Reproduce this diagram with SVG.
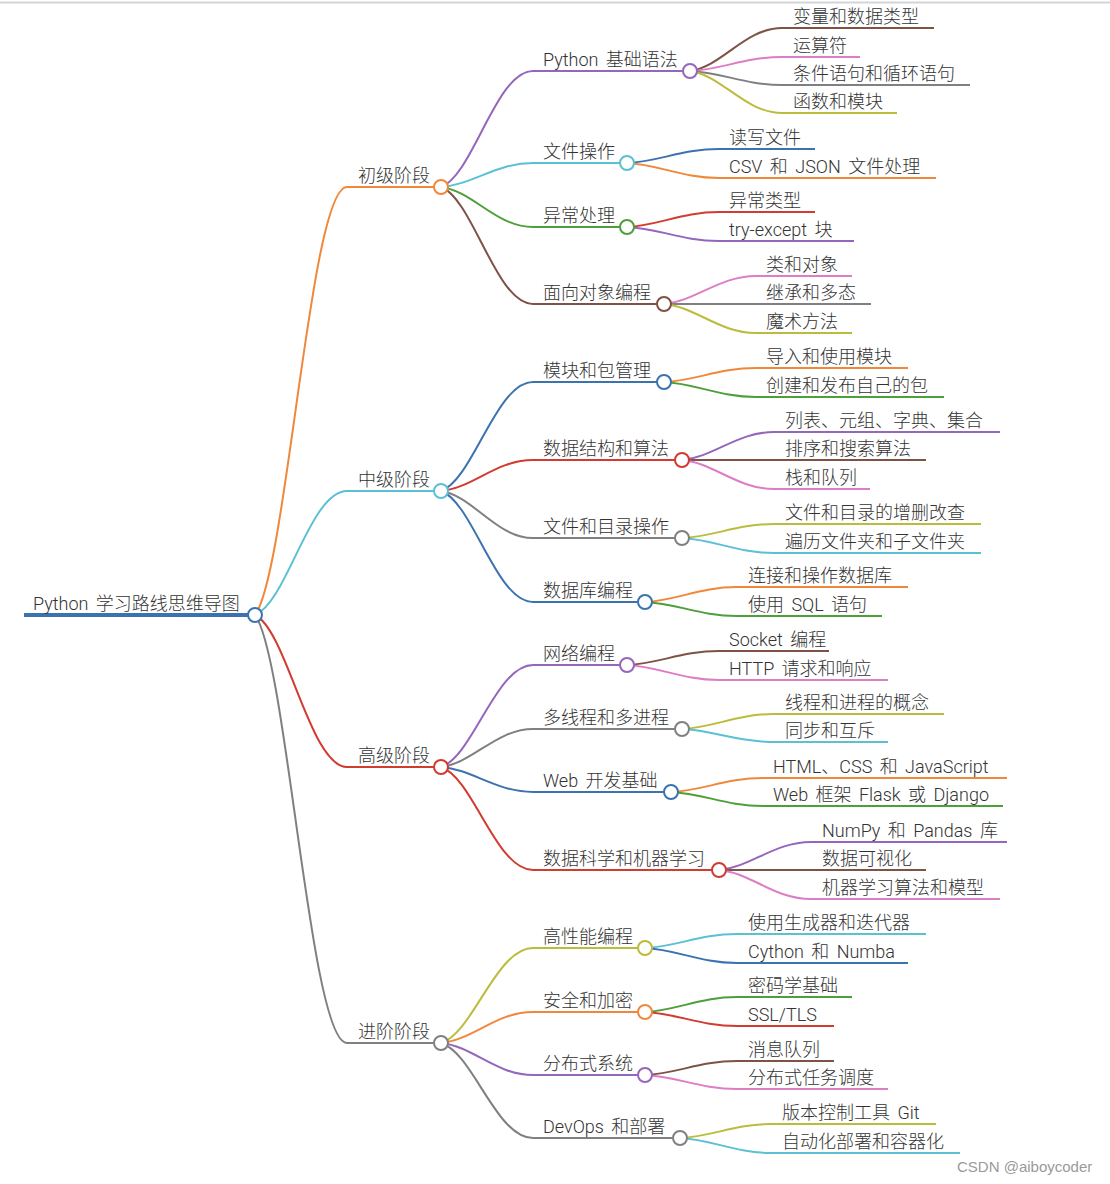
<svg xmlns="http://www.w3.org/2000/svg" width="1110" height="1184" viewBox="0 0 1110 1184">
<style>
text{font-family:Roboto,"Noto Sans CJK SC",sans-serif;font-size:18px;fill:#333;font-weight:300;word-spacing:3px}
.wm{font-family:"Liberation Sans",sans-serif;font-size:15px;fill:#9a9a9a;font-weight:400;word-spacing:0}
path{fill:none;stroke-width:2}
circle{fill:#fff;stroke-width:2}
.bl{stroke:#3B73B0}.or{stroke:#F0883B}.gr{stroke:#4D9F3A}.rd{stroke:#D13B30}.pu{stroke:#9466BD}
.br{stroke:#7E5245}.pk{stroke:#DD7DC5}.gy{stroke:#808080}.ol{stroke:#BCBC3C}.cy{stroke:#5BC0D4}
</style>
<rect x="0" y="0" width="1110" height="1184" fill="#fff"/>
<line x1="0" y1="2.5" x2="1110" y2="2.5" stroke="#D1D5DA" stroke-width="2"/>
<g id="connectors">
<path class="or" d="M255,615 C287,572.2 310,187 347,187 H441"/>
<path class="cy" d="M255,615 C287,602.6 310,491 347,491 H441"/>
<path class="rd" d="M255,615 C287,630.2 310,767 347,767 H441"/>
<path class="gy" d="M255,615 C287,657.8 310,1043 347,1043 H441"/>
<path class="pu" d="M441,187 C473,175.4 496,71 533,71 H690"/>
<path class="cy" d="M441,187 C473,184.6 496,163 533,163 H627"/>
<path class="gr" d="M441,187 C473,191 496,227 533,227 H627"/>
<path class="br" d="M441,187 C473,198.7 496,304 533,304 H664"/>
<path class="bl" d="M441,491 C473,480.1 496,382 533,382 H664"/>
<path class="rd" d="M441,491 C473,487.9 496,460 533,460 H682"/>
<path class="gy" d="M441,491 C473,495.7 496,538 533,538 H682"/>
<path class="bl" d="M441,491 C473,502.1 496,602 533,602 H645"/>
<path class="pu" d="M441,767 C473,756.8 496,665 533,665 H627"/>
<path class="gy" d="M441,767 C473,763.2 496,729 533,729 H682"/>
<path class="bl" d="M441,767 C473,769.5 496,792 533,792 H671"/>
<path class="rd" d="M441,767 C473,777.3 496,870 533,870 H719"/>
<path class="ol" d="M441,1043 C473,1033.5 496,948 533,948 H645"/>
<path class="or" d="M441,1043 C473,1039.9 496,1012 533,1012 H645"/>
<path class="pu" d="M441,1043 C473,1046.2 496,1075 533,1075 H645"/>
<path class="gy" d="M441,1043 C473,1052.5 496,1138 533,1138 H680"/>
<path class="br" d="M690,71 C722,66.7 745,28 782,28 H934"/>
<path class="pk" d="M690,71 C722,69.6 745,57 782,57 H860"/>
<path class="gy" d="M690,71 C722,72.4 745,85 782,85 H970"/>
<path class="ol" d="M690,71 C722,75.2 745,113 782,113 H897"/>
<path class="bl" d="M627,163 C659,161.6 682,149 719,149 H815"/>
<path class="or" d="M627,163 C659,164.5 682,178 719,178 H936"/>
<path class="rd" d="M627,227 C659,225.5 682,212 719,212 H815"/>
<path class="pu" d="M627,227 C659,228.4 682,241 719,241 H854"/>
<path class="pk" d="M664,304 C696,301.2 719,276 756,276 H852"/>
<path class="gy" d="M664,304 H871"/>
<path class="ol" d="M664,304 C696,306.9 719,333 756,333 H852"/>
<path class="or" d="M664,382 C696,380.6 719,368 756,368 H908"/>
<path class="gr" d="M664,382 C696,383.5 719,397 756,397 H944"/>
<path class="pu" d="M682,460 C714,457.2 737,432 774,432 H1000"/>
<path class="br" d="M682,460 H926"/>
<path class="pk" d="M682,460 C714,462.9 737,489 774,489 H870"/>
<path class="ol" d="M682,538 C714,536.6 737,524 774,524 H981"/>
<path class="cy" d="M682,538 C714,539.5 737,553 774,553 H981"/>
<path class="or" d="M645,602 C677,600.5 700,587 737,587 H908"/>
<path class="gr" d="M645,602 C677,603.4 700,616 737,616 H882"/>
<path class="br" d="M627,665 C659,663.6 682,651 719,651 H829"/>
<path class="pk" d="M627,665 C659,666.5 682,680 719,680 H888"/>
<path class="ol" d="M682,729 C714,727.5 737,714 774,714 H944"/>
<path class="cy" d="M682,729 C714,730.3 737,742 774,742 H888"/>
<path class="or" d="M671,792 C703,790.6 726,778 763,778 H1007"/>
<path class="gr" d="M671,792 C703,793.4 726,806 763,806 H1003"/>
<path class="pu" d="M719,870 C751,867.2 774,842 811,842 H1007"/>
<path class="br" d="M719,870 H926"/>
<path class="pk" d="M719,870 C751,872.9 774,899 811,899 H1000"/>
<path class="cy" d="M645,948 C677,946.6 700,934 737,934 H926"/>
<path class="bl" d="M645,948 C677,949.5 700,963 737,963 H908"/>
<path class="gr" d="M645,1012 C677,1010.5 700,997 737,997 H852"/>
<path class="rd" d="M645,1012 C677,1013.4 700,1026 737,1026 H834"/>
<path class="br" d="M645,1075 C677,1073.6 700,1061 737,1061 H834"/>
<path class="pk" d="M645,1075 C677,1076.4 700,1089 737,1089 H888"/>
<path class="ol" d="M680,1138 C712,1136.6 735,1124 772,1124 H936"/>
<path class="cy" d="M680,1138 C712,1139.5 735,1153 772,1153 H960"/>
</g>
<g id="root">
<line x1="24" y1="615" x2="255" y2="615" stroke="#3B73B0" stroke-width="4"/>
<text x="33" y="610">Python 学习路线思维导图</text>
<circle class="bl" cx="255" cy="615" r="7"/>
</g>
<g id="n1"><text x="358" y="182">初级阶段</text><circle class="or" cx="441" cy="187" r="7"/></g>
<g id="n2"><text x="358" y="486">中级阶段</text><circle class="cy" cx="441" cy="491" r="7"/></g>
<g id="n3"><text x="358" y="762">高级阶段</text><circle class="rd" cx="441" cy="767" r="7"/></g>
<g id="n4"><text x="358" y="1038">进阶阶段</text><circle class="gy" cx="441" cy="1043" r="7"/></g>
<g id="n1_1"><text x="543" y="66">Python 基础语法</text><circle class="pu" cx="690" cy="71" r="7"/></g>
<g id="n1_2"><text x="543" y="158">文件操作</text><circle class="cy" cx="627" cy="163" r="7"/></g>
<g id="n1_3"><text x="543" y="222">异常处理</text><circle class="gr" cx="627" cy="227" r="7"/></g>
<g id="n1_4"><text x="543" y="299">面向对象编程</text><circle class="br" cx="664" cy="304" r="7"/></g>
<g id="n2_1"><text x="543" y="377">模块和包管理</text><circle class="bl" cx="664" cy="382" r="7"/></g>
<g id="n2_2"><text x="543" y="455">数据结构和算法</text><circle class="rd" cx="682" cy="460" r="7"/></g>
<g id="n2_3"><text x="543" y="533">文件和目录操作</text><circle class="gy" cx="682" cy="538" r="7"/></g>
<g id="n2_4"><text x="543" y="597">数据库编程</text><circle class="bl" cx="645" cy="602" r="7"/></g>
<g id="n3_1"><text x="543" y="660">网络编程</text><circle class="pu" cx="627" cy="665" r="7"/></g>
<g id="n3_2"><text x="543" y="724">多线程和多进程</text><circle class="gy" cx="682" cy="729" r="7"/></g>
<g id="n3_3"><text x="543" y="787">Web 开发基础</text><circle class="bl" cx="671" cy="792" r="7"/></g>
<g id="n3_4"><text x="543" y="865">数据科学和机器学习</text><circle class="rd" cx="719" cy="870" r="7"/></g>
<g id="n4_1"><text x="543" y="943">高性能编程</text><circle class="ol" cx="645" cy="948" r="7"/></g>
<g id="n4_2"><text x="543" y="1007">安全和加密</text><circle class="or" cx="645" cy="1012" r="7"/></g>
<g id="n4_3"><text x="543" y="1070">分布式系统</text><circle class="pu" cx="645" cy="1075" r="7"/></g>
<g id="n4_4"><text x="543" y="1133">DevOps 和部署</text><circle class="gy" cx="680" cy="1138" r="7"/></g>
<g id="leaves">
<g id="l1_1_1"><text x="793" y="23">变量和数据类型</text></g>
<g id="l1_1_2"><text x="793" y="52">运算符</text></g>
<g id="l1_1_3"><text x="793" y="80">条件语句和循环语句</text></g>
<g id="l1_1_4"><text x="793" y="108">函数和模块</text></g>
<g id="l1_2_1"><text x="729" y="144">读写文件</text></g>
<g id="l1_2_2"><text x="729" y="173">CSV 和 JSON 文件处理</text></g>
<g id="l1_3_1"><text x="729" y="207">异常类型</text></g>
<g id="l1_3_2"><text x="729" y="236">try-except 块</text></g>
<g id="l1_4_1"><text x="766" y="271">类和对象</text></g>
<g id="l1_4_2"><text x="766" y="299">继承和多态</text></g>
<g id="l1_4_3"><text x="766" y="328">魔术方法</text></g>
<g id="l2_1_1"><text x="766" y="363">导入和使用模块</text></g>
<g id="l2_1_2"><text x="766" y="392">创建和发布自己的包</text></g>
<g id="l2_2_1"><text x="785" y="427">列表、元组、字典、集合</text></g>
<g id="l2_2_2"><text x="785" y="455">排序和搜索算法</text></g>
<g id="l2_2_3"><text x="785" y="484">栈和队列</text></g>
<g id="l2_3_1"><text x="785" y="519">文件和目录的增删改查</text></g>
<g id="l2_3_2"><text x="785" y="548">遍历文件夹和子文件夹</text></g>
<g id="l2_4_1"><text x="748" y="582">连接和操作数据库</text></g>
<g id="l2_4_2"><text x="748" y="611">使用 SQL 语句</text></g>
<g id="l3_1_1"><text x="729" y="646">Socket 编程</text></g>
<g id="l3_1_2"><text x="729" y="675">HTTP 请求和响应</text></g>
<g id="l3_2_1"><text x="785" y="709">线程和进程的概念</text></g>
<g id="l3_2_2"><text x="785" y="737">同步和互斥</text></g>
<g id="l3_3_1"><text x="773" y="773">HTML、CSS 和 JavaScript</text></g>
<g id="l3_3_2"><text x="773" y="801">Web 框架 Flask 或 Django</text></g>
<g id="l3_4_1"><text x="822" y="837">NumPy 和 Pandas 库</text></g>
<g id="l3_4_2"><text x="822" y="865">数据可视化</text></g>
<g id="l3_4_3"><text x="822" y="894">机器学习算法和模型</text></g>
<g id="l4_1_1"><text x="748" y="929">使用生成器和迭代器</text></g>
<g id="l4_1_2"><text x="748" y="958">Cython 和 Numba</text></g>
<g id="l4_2_1"><text x="748" y="992">密码学基础</text></g>
<g id="l4_2_2"><text x="748" y="1021">SSL/TLS</text></g>
<g id="l4_3_1"><text x="748" y="1056">消息队列</text></g>
<g id="l4_3_2"><text x="748" y="1084">分布式任务调度</text></g>
<g id="l4_4_1"><text x="782" y="1119">版本控制工具 Git</text></g>
<g id="l4_4_2"><text x="782" y="1148">自动化部署和容器化</text></g>
</g>
<text class="wm" x="957" y="1172">CSDN @aiboycoder</text>
</svg>
